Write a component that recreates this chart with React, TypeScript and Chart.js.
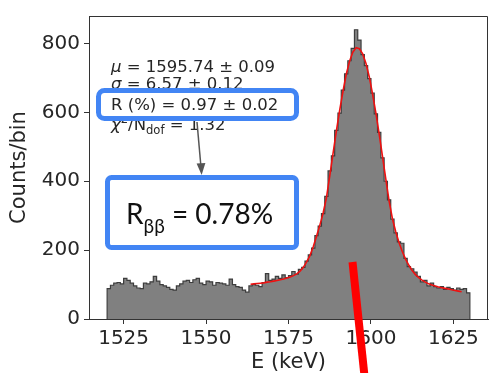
import React, { useEffect, useRef } from "react";
import { Chart, registerables } from "chart.js";

Chart.register(...registerables);

// ---- data ----
const binStart = 1520;
const binWidth = 1;
// counts per 1 keV bin, 1520 ... 1629
const counts = [
  88, 98, 104, 106, 102, 118, 112, 104, 96, 90,
  88, 104, 102, 108, 124, 110, 100, 96, 92, 86,
  84, 96, 102, 110, 112, 106, 114, 118, 104, 100,
  110, 108, 98, 106, 104, 102, 98, 116, 100, 94,
  92, 84, 78, 96, 100, 98, 94, 106, 132, 112,
  116, 124, 118, 128, 120, 126, 138, 130, 144, 150,
  168, 186, 206, 242, 270, 306, 356, 430, 474, 548,
  598, 665, 712, 750, 786, 840, 810, 768, 736, 698,
  656, 596, 542, 468, 400, 346, 290, 250, 224, 220,
  176, 152, 146, 136, 124, 108, 112, 96, 104, 94,
  90, 94, 86, 92, 88, 84, 90, 86, 88, 76,
];
// fit curve, evaluated at bin centres 1563.5 ... 1627.5
const fitStart = 1563.5;
const fitStep = 1;
const fitValues = [
  101, 102, 103, 104, 105, 107, 108, 110, 112, 114,
  116, 119, 122, 126, 131, 139, 150, 166, 184, 210,
  240, 272, 308, 352, 415, 480, 545, 605, 660, 710,
  748, 775, 788, 785, 770, 742, 703, 653, 598, 537,
  472, 407, 343, 292, 254, 222, 196, 174, 156, 141,
  129, 120, 113, 107, 102, 99, 96, 93, 91, 89,
  87, 85, 83, 81, 79,
];
const xTickValues = [1525, 1550, 1575, 1600, 1625];
const yTickValues = [0, 200, 400, 600, 800];
const xRange = [1514.5, 1635.5];
const yRange = [0, 880];

const statMu = "1595.74 ± 0.09";
const statSigma = "6.57 ± 0.12";
const statR = "0.97 ± 0.02";
const statChi2 = "1.32";
const rBetaBeta = "0.78%";

// ---- styles ----
const MPL = "'DejaVu Sans', sans-serif";
const TEXT = "#262626";
const AXIS = "#333333";
const BLUE = "#4285f4";

type Run = { text: string; font: string; dy?: number };

function drawRuns(ctx: CanvasRenderingContext2D, x: number, y: number, runs: Run[]) {
  let cx = x;
  for (const r of runs) {
    ctx.font = r.font;
    ctx.fillText(r.text, cx, y + (r.dy || 0));
    cx += ctx.measureText(r.text).width;
  }
}

function roundRect(ctx: CanvasRenderingContext2D, x: number, y: number, w: number, h: number, r: number) {
  ctx.beginPath();
  ctx.moveTo(x + r, y);
  ctx.lineTo(x + w - r, y);
  ctx.arcTo(x + w, y, x + w, y + r, r);
  ctx.lineTo(x + w, y + h - r);
  ctx.arcTo(x + w, y + h, x + w - r, y + h, r);
  ctx.lineTo(x + r, y + h);
  ctx.arcTo(x, y + h, x, y + h - r, r);
  ctx.lineTo(x, y + r);
  ctx.arcTo(x, y, x + r, y, r);
  ctx.closePath();
}

const annotationPlugin = {
  id: "annotations",
  afterDraw(chart: any) {
    const ctx: CanvasRenderingContext2D = chart.ctx;
    const a = chart.chartArea;
    ctx.save();

    // top + right spines
    ctx.strokeStyle = AXIS;
    ctx.lineWidth = 1;
    ctx.beginPath();
    ctx.moveTo(a.left, a.top + 0.5);
    ctx.lineTo(a.right - 0.5, a.top + 0.5);
    ctx.lineTo(a.right - 0.5, a.bottom);
    ctx.stroke();

    // stats text
    const fs = 16.5;
    const reg = `${fs}px ${MPL}`;
    const ita = `italic ${fs}px ${MPL}`;
    const small = `${fs * 0.7}px ${MPL}`;
    ctx.fillStyle = TEXT;
    ctx.textBaseline = "alphabetic";
    ctx.textAlign = "left";
    const tx = 111;
    drawRuns(ctx, tx, 71.5, [
      { text: "μ", font: ita },
      { text: " = " + statMu, font: reg },
    ]);
    drawRuns(ctx, tx, 89, [
      { text: "σ", font: ita },
      { text: " = " + statSigma, font: reg },
    ]);
    drawRuns(ctx, tx, 130, [
      { text: "χ", font: ita },
      { text: "2", font: small, dy: -7 },
      { text: "/N", font: reg },
      { text: "dof", font: small, dy: 4 },
      { text: " = " + statChi2, font: reg },
    ]);

    // highlight box around R
    ctx.fillStyle = "#ffffff";
    roundRect(ctx, 98.5, 90.5, 198, 28, 6);
    ctx.fill();
    ctx.strokeStyle = BLUE;
    ctx.lineWidth = 5;
    ctx.stroke();
    ctx.fillStyle = TEXT;
    drawRuns(ctx, tx, 109.5, [{ text: "R (%) = " + statR, font: reg }]);

    // arrow
    ctx.strokeStyle = "#555555";
    ctx.fillStyle = "#555555";
    ctx.lineWidth = 1.5;
    ctx.beginPath();
    ctx.moveTo(197, 122);
    ctx.lineTo(200.8, 165);
    ctx.stroke();
    ctx.beginPath();
    ctx.moveTo(201.6, 175);
    ctx.lineTo(196.6, 163.5);
    ctx.lineTo(205.4, 163);
    ctx.closePath();
    ctx.fill();

    // R_bb box
    ctx.fillStyle = "#ffffff";
    roundRect(ctx, 107.5, 177.5, 189, 70, 4);
    ctx.fill();
    ctx.strokeStyle = BLUE;
    ctx.lineWidth = 5;
    ctx.stroke();
    ctx.fillStyle = "#111111";
    drawRuns(ctx, 126, 224, [
      { text: "R", font: `28px Lato, sans-serif` },
      { text: "ββ", font: `19px Lato, sans-serif`, dy: 9 },
      { text: " = " + rBetaBeta, font: `28px Lato, sans-serif` },
    ]);

    // red slash
    ctx.strokeStyle = "#ff0000";
    ctx.lineWidth = 8;
    ctx.lineCap = "butt";
    ctx.beginPath();
    ctx.moveTo(352.5, 262);
    ctx.lineTo(364.5, 376);
    ctx.stroke();

    ctx.restore();
  },
};

export default function App() {
  const ref = useRef<HTMLCanvasElement | null>(null);

  useEffect(() => {
    document.body.style.margin = "0";
    const canvas = ref.current;
    if (!canvas) return;

    const histPoints: { x: number; y: number }[] = [{ x: binStart, y: 0 }];
    counts.forEach((c, i) => histPoints.push({ x: binStart + i * binWidth, y: c }));
    const binEnd = binStart + counts.length * binWidth;
    histPoints.push({ x: binEnd, y: counts[counts.length - 1] });
    histPoints.push({ x: binEnd, y: 0 });

    const fitPoints = fitValues.map((v, i) => ({ x: fitStart + i * fitStep, y: v }));

    const tickFont = { family: MPL, size: 20 };
    const titleFont = { family: MPL, size: 21, lineHeight: 1 };

    const chart = new Chart(canvas, {
      type: "line",
      data: {
        datasets: [
          {
            label: "fit",
            data: fitPoints,
            borderColor: "#ee1111",
            borderWidth: 1.6,
            pointRadius: 0,
            fill: false,
            tension: 0,
            order: 0,
          },
          {
            label: "hist",
            data: histPoints,
            stepped: "before",
            borderColor: "#3d3d3d",
            borderWidth: 1.2,
            backgroundColor: "#808080",
            pointRadius: 0,
            fill: "origin",
            order: 1,
          },
        ],
      },
      options: {
        responsive: false,
        devicePixelRatio: 1,
        animation: false,
        layout: { padding: { top: 6, right: 3, left: 0, bottom: 0 } },
        plugins: {
          legend: { display: false },
          tooltip: { enabled: false },
        },
        scales: {
          x: {
            type: "linear",
            min: xRange[0],
            max: xRange[1],
            afterBuildTicks: (s: any) => {
              s.ticks = xTickValues.map((v) => ({ value: v }));
            },
            afterFit: (s: any) => {
              s.height = 54;
            },
            ticks: {
              font: tickFont,
              color: TEXT,
              padding: 3,
              maxRotation: 0,
              autoSkip: false,
              callback: (v: any) => String(v),
            },
            grid: { drawOnChartArea: false, tickLength: 5, color: AXIS },
            border: { color: AXIS, width: 1 },
            title: {
              display: true,
              text: "E (keV)",
              font: titleFont,
              color: TEXT,
              padding: { top: 0, bottom: 0 },
            },
          },
          y: {
            type: "linear",
            min: yRange[0],
            max: yRange[1],
            afterBuildTicks: (s: any) => {
              s.ticks = yTickValues.map((v) => ({ value: v }));
            },
            afterFit: (s: any) => {
              s.width = 89;
            },
            ticks: {
              font: tickFont,
              color: TEXT,
              padding: 4,
              callback: (v: any) => String(v),
            },
            grid: { drawOnChartArea: false, tickLength: 5, color: AXIS },
            border: { color: AXIS, width: 1 },
            title: {
              display: true,
              text: "Counts/bin",
              font: titleFont,
              color: TEXT,
              padding: { top: 9.5, bottom: 0 },
            },
          },
        },
      },
      plugins: [annotationPlugin],
    } as any);

    return () => chart.destroy();
  }, []);

  return <canvas ref={ref} width={491} height={373} style={{ display: "block" }} />;
}
